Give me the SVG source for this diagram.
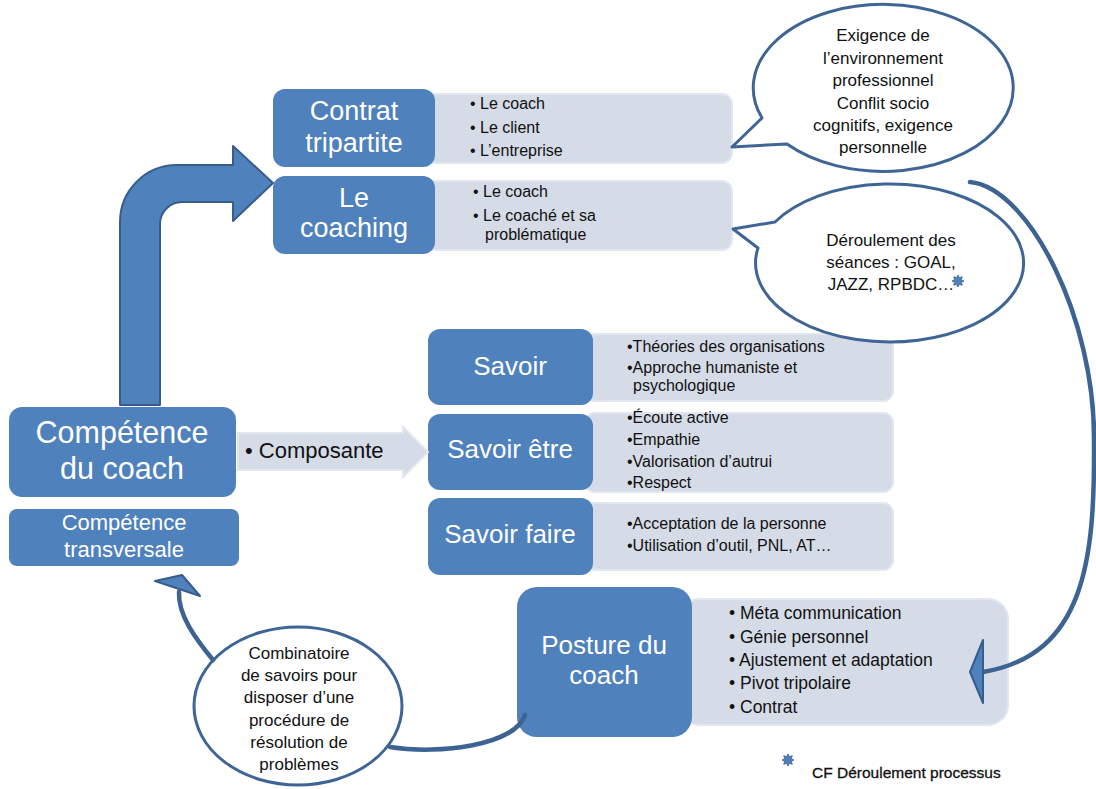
<svg xmlns="http://www.w3.org/2000/svg" width="1096" height="789" viewBox="0 0 1096 789">
<style>
  .dark { fill: #4f81bd; }
  .light { fill: #d5dbe7; stroke: #e2e6ee; stroke-width: 2; }
  .lbl { font-family: "Liberation Sans", Arial, sans-serif; fill: #ffffff; text-anchor: middle; }
  .lst { font-family: "Liberation Sans", Arial, sans-serif; fill: #111111; }
  .bub { font-family: "Liberation Sans", Arial, sans-serif; fill: #111111; text-anchor: middle; font-size: 17px; }
  .bubble { fill: #ffffff; stroke: #3f6596; stroke-width: 3; stroke-linejoin: round; }
  .curve { fill: none; stroke: #3d6393; stroke-width: 4.5; stroke-linecap: round; }
  .head { fill: #4f81bd; stroke: #385d8a; stroke-width: 2; stroke-linejoin: round; }
  .star { fill: #4f81bd; stroke: #385d8a; stroke-width: 0.8; }
</style>
<defs>
  <path id="star" d="M6,0 L3.3,1.37 L4.24,4.24 L1.37,3.3 L0,6 L-1.37,3.3 L-4.24,4.24 L-3.3,1.37 L-6,0 L-3.3,-1.37 L-4.24,-4.24 L-1.37,-3.3 L0,-6 L1.37,-3.3 L4.24,-4.24 L3.3,-1.37 Z"/>
</defs>
<rect width="1096" height="789" fill="#ffffff"/>

<g id="contrat-tripartite">
  <rect class="light" x="425" y="94" width="307" height="69" rx="10"/>
  <rect class="dark" x="273" y="89" width="162" height="78" rx="12"/>
  <text class="lbl" font-size="27" x="354" y="120">Contrat</text>
  <text class="lbl" font-size="27" x="354" y="152">tripartite</text>
  <text class="lst" font-size="16" x="470" y="109">•  Le coach</text>
  <text class="lst" font-size="16" x="470" y="133">•  Le client</text>
  <text class="lst" font-size="16" x="470" y="156">•  L’entreprise</text>
</g>

<g id="le-coaching">
  <rect class="light" x="425" y="181" width="307" height="69" rx="10"/>
  <rect class="dark" x="273" y="176" width="162" height="78" rx="12"/>
  <text class="lbl" font-size="27" x="354" y="207">Le</text>
  <text class="lbl" font-size="27" x="354" y="237">coaching</text>
  <text class="lst" font-size="16" x="473" y="197">•  Le coach</text>
  <text class="lst" font-size="16" x="473" y="221">•  Le coaché et sa</text>
  <text class="lst" font-size="16" x="485" y="240">problématique</text>
</g>

<g id="competence-du-coach">
  <rect class="dark" x="9" y="407" width="227" height="90" rx="13"/>
  <text class="lbl" font-size="30.5" x="122" y="443">Compétence</text>
  <text class="lbl" font-size="30.5" x="122" y="479">du coach</text>
</g>

<g id="competence-transversale">
  <rect class="dark" x="9" y="509" width="230" height="57" rx="8"/>
  <text class="lbl" font-size="22" x="124" y="530">Compétence</text>
  <text class="lbl" font-size="22" x="124" y="557">transversale</text>
</g>

<g id="savoir">
  <rect class="light" x="585" y="334" width="308" height="67" rx="10"/>
  <rect class="dark" x="428" y="329" width="165" height="76" rx="12"/>
  <text class="lbl" font-size="26" x="510" y="375">Savoir</text>
  <text class="lst" font-size="16" x="627" y="352">•Théories des organisations</text>
  <text class="lst" font-size="16" x="627" y="373">•Approche humaniste et</text>
  <text class="lst" font-size="16" x="633" y="391">psychologique</text>
</g>

<g id="savoir-etre">
  <rect class="light" x="585" y="413" width="308" height="79" rx="10"/>
  <rect class="dark" x="428" y="414" width="165" height="76" rx="12"/>
  <text class="lbl" font-size="26" x="510" y="458">Savoir être</text>
  <text class="lst" font-size="16" x="627" y="423">•Écoute active</text>
  <text class="lst" font-size="16" x="627" y="445">•Empathie</text>
  <text class="lst" font-size="16" x="627" y="467">•Valorisation d’autrui</text>
  <text class="lst" font-size="16" x="627" y="488">•Respect</text>
</g>

<g id="savoir-faire">
  <rect class="light" x="585" y="503" width="308" height="67" rx="10"/>
  <rect class="dark" x="428" y="498" width="165" height="77" rx="12"/>
  <text class="lbl" font-size="26" x="510" y="543">Savoir faire</text>
  <text class="lst" font-size="16" x="627" y="529">•Acceptation de la personne</text>
  <text class="lst" font-size="16" x="627" y="551">•Utilisation d’outil, PNL, AT…</text>
</g>

<g id="posture-du-coach">
  <rect class="light" x="680" y="599" width="328" height="126" rx="20"/>
  <rect class="dark" x="517" y="587" width="175" height="150" rx="20"/>
  <text class="lbl" font-size="26" x="604" y="654">Posture du</text>
  <text class="lbl" font-size="26" x="604" y="684">coach</text>
  <text class="lst" font-size="17.5" x="729" y="619">• Méta communication</text>
  <text class="lst" font-size="17.5" x="729" y="643">• Génie personnel</text>
  <text class="lst" font-size="17.5" x="729" y="666">• Ajustement et adaptation</text>
  <text class="lst" font-size="17.5" x="729" y="689">• Pivot tripolaire</text>
  <text class="lst" font-size="17.5" x="729" y="713">• Contrat</text>
</g>

<g id="bubble-exigence">
  <path class="bubble" d="M762,118 L732,147 L787,144 A130,83.5 0 1 0 762,118 Z"/>
  <text class="bub" x="883" y="41">Exigence de</text>
  <text class="bub" x="883" y="63.5">l’environnement</text>
  <text class="bub" x="883" y="86">professionnel</text>
  <text class="bub" x="883" y="108.5">Conflit socio</text>
  <text class="bub" x="883" y="131">cognitifs, exigence</text>
  <text class="bub" x="883" y="153">personnelle</text>
</g>

<g id="bubble-deroulement">
  <path class="bubble" d="M775,222 L733,229 L758,248 A134,79 0 1 0 775,222 Z"/>
  <text class="bub" x="891" y="246">Déroulement des</text>
  <text class="bub" x="891" y="268">séances : GOAL,</text>
  <text class="bub" x="891" y="290">JAZZ, RPBDC…</text>
  <use href="#star" class="star" transform="translate(958,281)"/>
</g>

<g id="bubble-combinatoire">
  <ellipse class="bubble" cx="298" cy="706" rx="104" ry="79"/>
  <text class="bub" x="299" y="659">Combinatoire</text>
  <text class="bub" x="299" y="681">de savoirs pour</text>
  <text class="bub" x="299" y="703">disposer d’une</text>
  <text class="bub" x="299" y="726">procédure de</text>
  <text class="bub" x="299" y="748">résolution de</text>
  <text class="bub" x="299" y="770">problèmes</text>
</g>

<g id="legend">
  <use href="#star" class="star" transform="translate(788,760)"/>
  <text class="lst" font-size="15.5" x="812" y="778" stroke="#111111" stroke-width="0.3">CF Déroulement processus</text>
</g>

<g id="connectors">
  <path id="bent-arrow" class="head" d="M120,405 L120,222 A57,57 0 0 1 177,165 L233,165 L233,146 L273,183 L233,221 L233,202 L182,202 A22,22 0 0 0 160,224 L160,405 Z"/>
  <path id="composante-arrow" d="M238,433 L403,433 L403,427 L428,452 L403,477 L403,470 L238,470 Z" fill="#d5dbe7" stroke="#e2e6ee" stroke-width="2"/>
  <text class="lst" font-size="22" x="245" y="458">• Composante</text>
  <path id="right-curve" class="curve" d="M970,182 C1030,188 1095,320 1094,440 C1095,560 1085,655 983,672"/>
  <polygon class="head" points="970,672 983,640 983,703"/>
  <path id="posture-to-bubble" class="curve" d="M525,715 C515,745 440,755 390,747"/>
  <path id="bubble-to-competence" class="curve" d="M213,660 C195,638 178,615 179,592"/>
  <polygon class="head" points="155,581 182,575 200,596"/>
</g>
</svg>
